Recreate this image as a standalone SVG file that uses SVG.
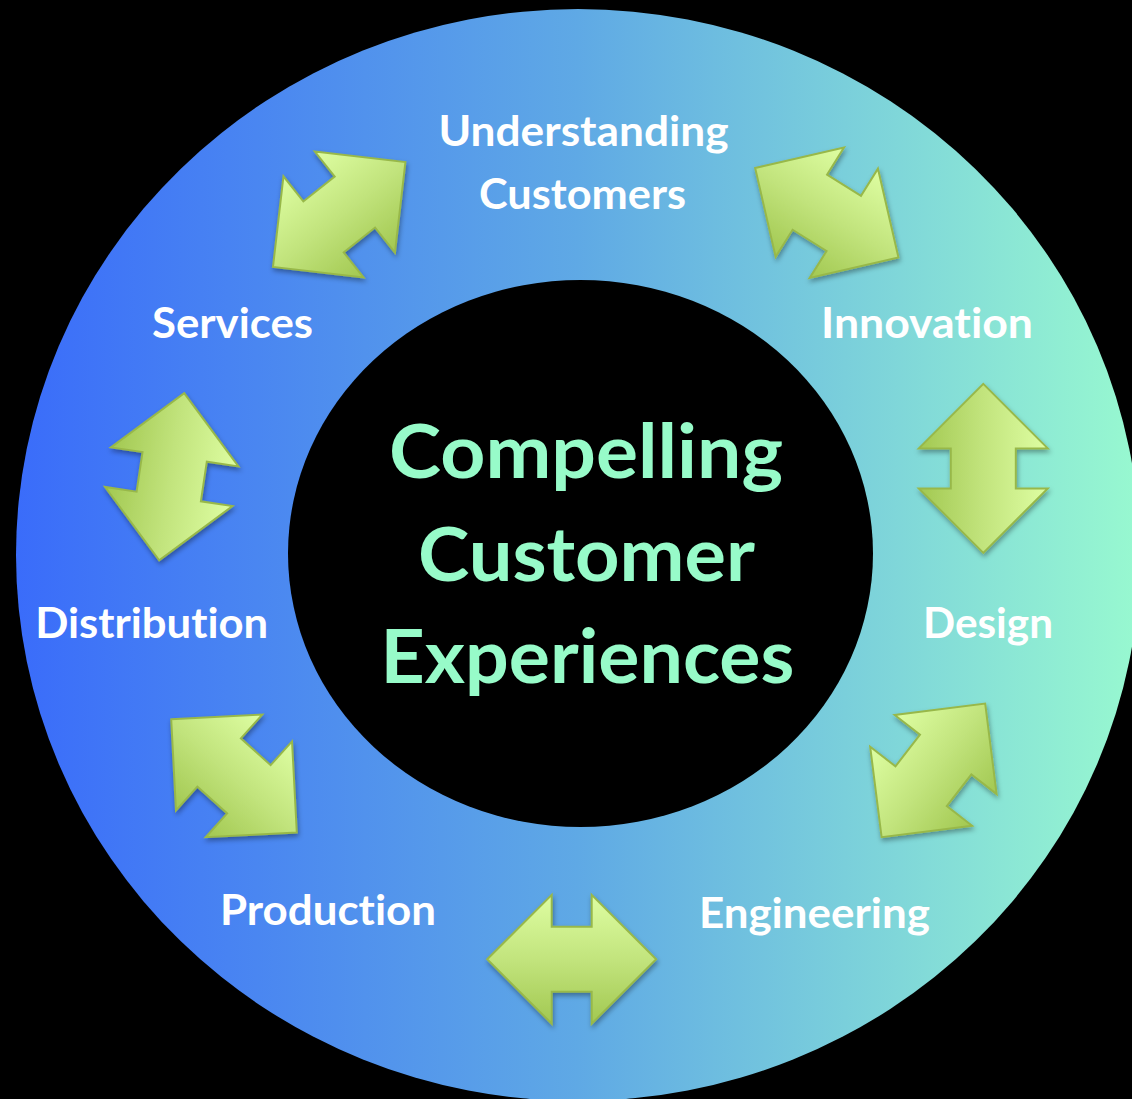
<svg xmlns="http://www.w3.org/2000/svg" width="1132" height="1099" viewBox="0 0 1132 1099">
  <defs>
    <linearGradient id="ringFill" gradientUnits="userSpaceOnUse" x1="16" y1="0" x2="1140" y2="0">
      <stop offset="0" stop-color="#3a6cfa"/>
      <stop offset="0.5" stop-color="#5fa9e5"/>
      <stop offset="1" stop-color="#98f9d0"/>
    </linearGradient>
    <linearGradient id="arrowFill" x1="0" y1="0" x2="0" y2="1">
      <stop offset="0" stop-color="#defea2"/>
      <stop offset="0.5" stop-color="#c2e47d"/>
      <stop offset="1" stop-color="#a2c851"/>
    </linearGradient>
    <filter id="arrowShadow" x="-20%" y="-20%" width="140%" height="140%">
      <feDropShadow dx="1" dy="3" stdDeviation="2.5" flood-color="#000" flood-opacity="0.35"/>
    </filter>
    <!-- double-headed arrow, centred on the origin, pointing along x -->
    <path id="dblArrow" d="M -84.5 0 L -20 -64.5 L -20 -32.5 L 20 -32.5 L 20 -64.5 L 84.5 0 L 20 64.5 L 20 32.5 L -20 32.5 L -20 64.5 Z"/>
    <style>
      text { font-variant-ligatures: none; font-feature-settings: "liga" 0, "clig" 0, "dlig" 0; }
      .label { font-family: Lato, "Open Sans", "Liberation Sans", sans-serif; font-weight: 700; font-size: 42px; fill: #ffffff; text-anchor: middle; }
      .hub-text { font-family: Lato, "Open Sans", "Liberation Sans", sans-serif; font-weight: 700; font-size: 75px; fill: #97fbc9; text-anchor: middle; }
      .arrow { fill: url(#arrowFill); stroke: #98b84a; stroke-width: 2; stroke-linejoin: miter; }
    </style>
  </defs>

  <!-- background -->
  <rect width="1132" height="1099" fill="#000"/>

  <!-- outer ring and central hub -->
  <ellipse id="ring" cx="578" cy="555" rx="562" ry="546" fill="url(#ringFill)"/>
  <g id="hub">
    <ellipse cx="580.5" cy="553.5" rx="292.5" ry="273.5" fill="#000"/>
    <text class="hub-text" x="586" y="478" textLength="394" lengthAdjust="spacingAndGlyphs">Compelling</text>
    <text class="hub-text" x="586.4" y="581" textLength="337" lengthAdjust="spacingAndGlyphs">Customer</text>
    <text class="hub-text" x="587.4" y="683" textLength="414" lengthAdjust="spacingAndGlyphs">Experiences</text>
  </g>

  <!-- stage labels -->
  <g id="understanding-customers">
    <text class="label" x="583.5" y="146" textLength="290" lengthAdjust="spacingAndGlyphs">Understanding</text>
    <text class="label" x="582.5" y="209" textLength="207" lengthAdjust="spacingAndGlyphs">Customers</text>
  </g>
  <g id="innovation">
    <text class="label" x="927" y="338" textLength="212" lengthAdjust="spacingAndGlyphs">Innovation</text>
  </g>
  <g id="design">
    <text class="label" x="988" y="638" textLength="130" lengthAdjust="spacingAndGlyphs">Design</text>
  </g>
  <g id="engineering">
    <text class="label" x="814.4" y="928" textLength="231" lengthAdjust="spacingAndGlyphs">Engineering</text>
  </g>
  <g id="production">
    <text class="label" x="328" y="925" textLength="216" lengthAdjust="spacingAndGlyphs">Production</text>
  </g>
  <g id="distribution">
    <text class="label" x="151.7" y="638" textLength="233" lengthAdjust="spacingAndGlyphs">Distribution</text>
  </g>
  <g id="services">
    <text class="label" x="232.5" y="338" textLength="161" lengthAdjust="spacingAndGlyphs">Services</text>
  </g>

  <!-- two-way arrows between neighbouring stages -->
  <g id="connectors">
    <g filter="url(#arrowShadow)"><use href="#dblArrow" class="arrow" transform="translate(339.2 214.5) rotate(-38.4)"/></g>
    <g filter="url(#arrowShadow)"><use href="#dblArrow" class="arrow" transform="translate(826.8 212.8) rotate(32)"/></g>
    <g filter="url(#arrowShadow)"><use href="#dblArrow" class="arrow" transform="translate(983.3 468.4) rotate(90)"/></g>
    <g filter="url(#arrowShadow)"><use href="#dblArrow" class="arrow" transform="translate(933.4 770.4) rotate(-52.2)"/></g>
    <g filter="url(#arrowShadow)"><use href="#dblArrow" class="arrow" transform="translate(571.7 959.3)"/></g>
    <g filter="url(#arrowShadow)"><use href="#dblArrow" class="arrow" transform="translate(234 775.9) rotate(42)"/></g>
    <g filter="url(#arrowShadow)"><use href="#dblArrow" class="arrow" transform="translate(171.7 476.7) rotate(98.5)"/></g>
  </g>
</svg>
